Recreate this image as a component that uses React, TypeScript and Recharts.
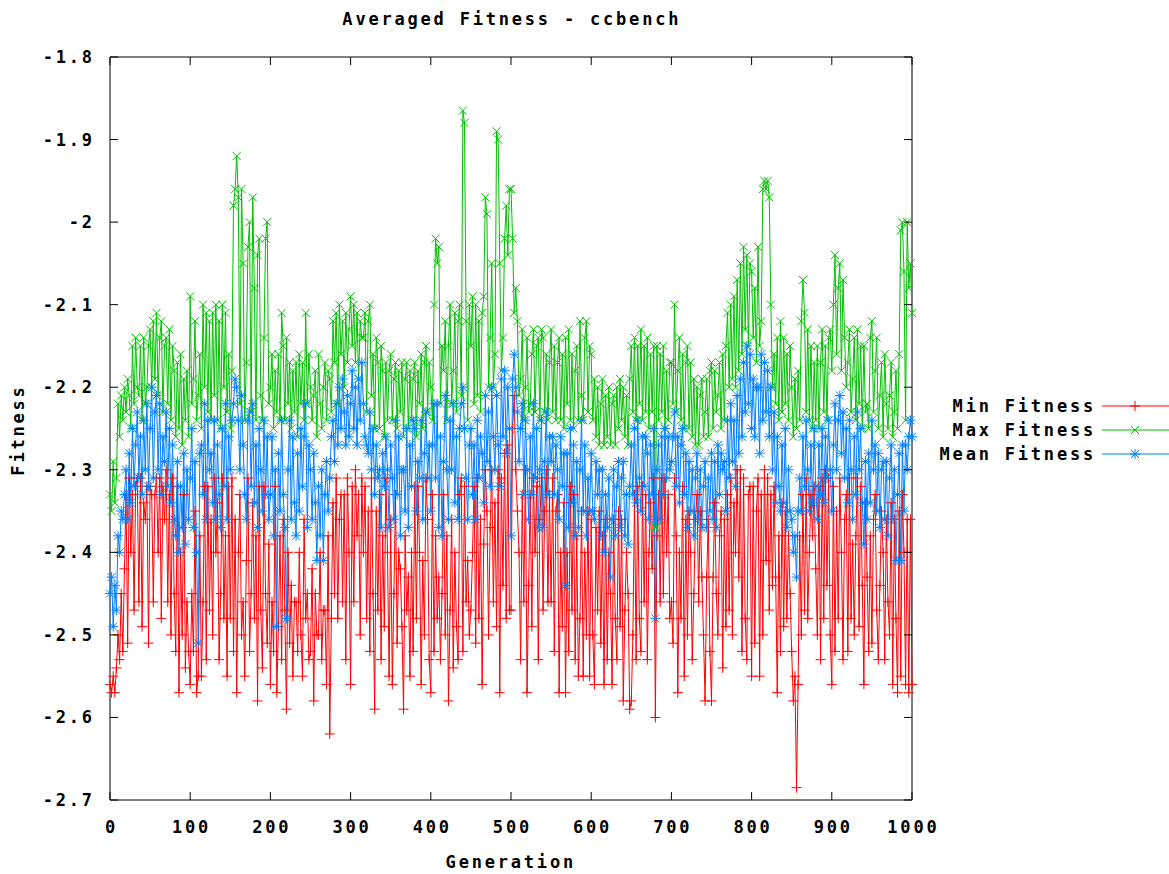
import { LineChart, Line, XAxis, YAxis, ReferenceArea } from "recharts";

// generations sampled every 2
const generations = [
  0, 2, 4, 6, 8, 10, 12, 14, 16, 18, 20, 22, 24, 26, 28, 30, 32, 34, 36, 38, 40, 42, 44, 46, 48,
  50, 52, 54, 56, 58, 60, 62, 64, 66, 68, 70, 72, 74, 76, 78, 80, 82, 84, 86, 88, 90, 92, 94, 96, 98,
  100, 102, 104, 106, 108, 110, 112, 114, 116, 118, 120, 122, 124, 126, 128, 130, 132, 134, 136, 138, 140, 142, 144, 146, 148,
  150, 152, 154, 156, 158, 160, 162, 164, 166, 168, 170, 172, 174, 176, 178, 180, 182, 184, 186, 188, 190, 192, 194, 196, 198,
  200, 202, 204, 206, 208, 210, 212, 214, 216, 218, 220, 222, 224, 226, 228, 230, 232, 234, 236, 238, 240, 242, 244, 246, 248,
  250, 252, 254, 256, 258, 260, 262, 264, 266, 268, 270, 272, 274, 276, 278, 280, 282, 284, 286, 288, 290, 292, 294, 296, 298,
  300, 302, 304, 306, 308, 310, 312, 314, 316, 318, 320, 322, 324, 326, 328, 330, 332, 334, 336, 338, 340, 342, 344, 346, 348,
  350, 352, 354, 356, 358, 360, 362, 364, 366, 368, 370, 372, 374, 376, 378, 380, 382, 384, 386, 388, 390, 392, 394, 396, 398,
  400, 402, 404, 406, 408, 410, 412, 414, 416, 418, 420, 422, 424, 426, 428, 430, 432, 434, 436, 438, 440, 442, 444, 446, 448,
  450, 452, 454, 456, 458, 460, 462, 464, 466, 468, 470, 472, 474, 476, 478, 480, 482, 484, 486, 488, 490, 492, 494, 496, 498,
  500, 502, 504, 506, 508, 510, 512, 514, 516, 518, 520, 522, 524, 526, 528, 530, 532, 534, 536, 538, 540, 542, 544, 546, 548,
  550, 552, 554, 556, 558, 560, 562, 564, 566, 568, 570, 572, 574, 576, 578, 580, 582, 584, 586, 588, 590, 592, 594, 596, 598,
  600, 602, 604, 606, 608, 610, 612, 614, 616, 618, 620, 622, 624, 626, 628, 630, 632, 634, 636, 638, 640, 642, 644, 646, 648,
  650, 652, 654, 656, 658, 660, 662, 664, 666, 668, 670, 672, 674, 676, 678, 680, 682, 684, 686, 688, 690, 692, 694, 696, 698,
  700, 702, 704, 706, 708, 710, 712, 714, 716, 718, 720, 722, 724, 726, 728, 730, 732, 734, 736, 738, 740, 742, 744, 746, 748,
  750, 752, 754, 756, 758, 760, 762, 764, 766, 768, 770, 772, 774, 776, 778, 780, 782, 784, 786, 788, 790, 792, 794, 796, 798,
  800, 802, 804, 806, 808, 810, 812, 814, 816, 818, 820, 822, 824, 826, 828, 830, 832, 834, 836, 838, 840, 842, 844, 846, 848,
  850, 852, 854, 856, 858, 860, 862, 864, 866, 868, 870, 872, 874, 876, 878, 880, 882, 884, 886, 888, 890, 892, 894, 896, 898,
  900, 902, 904, 906, 908, 910, 912, 914, 916, 918, 920, 922, 924, 926, 928, 930, 932, 934, 936, 938, 940, 942, 944, 946, 948,
  950, 952, 954, 956, 958, 960, 962, 964, 966, 968, 970, 972, 974, 976, 978, 980, 982, 984, 986, 988, 990, 992, 994, 996, 998,
  1000,
];

const minFitness = [
  -2.56, -2.57, -2.55, -2.57, -2.54, -2.5, -2.53, -2.45, -2.52, -2.42, -2.33, -2.51, -2.31, -2.4, -2.33, -2.47, -2.32, -2.31, -2.46, -2.31, -2.49, -2.34, -2.36, -2.32, -2.51,
  -2.32, -2.33, -2.46, -2.33, -2.31, -2.4, -2.31, -2.48, -2.32, -2.36, -2.3, -2.46, -2.33, -2.5, -2.31, -2.45, -2.52, -2.32, -2.57, -2.4, -2.5, -2.33, -2.54, -2.46, -2.52,
  -2.56, -2.45, -2.52, -2.35, -2.57, -2.55, -2.38, -2.55, -2.46, -2.32, -2.53, -2.32, -2.47, -2.36, -2.5, -2.31, -2.4, -2.34, -2.53, -2.45, -2.31, -2.48, -2.38, -2.55, -2.32,
  -2.48, -2.31, -2.52, -2.36, -2.57, -2.4, -2.33, -2.5, -2.46, -2.55, -2.41, -2.31, -2.52, -2.45, -2.34, -2.48, -2.38, -2.58, -2.32, -2.47, -2.54, -2.32, -2.45, -2.51, -2.39,
  -2.56, -2.46, -2.52, -2.32, -2.57, -2.49, -2.38, -2.53, -2.36, -2.47, -2.59, -2.4, -2.51, -2.44, -2.55, -2.46, -2.46, -2.52, -2.4, -2.5, -2.55, -2.36, -2.48, -2.45, -2.53,
  -2.52, -2.42, -2.58, -2.45, -2.5, -2.5, -2.4, -2.53, -2.47, -2.47, -2.56, -2.38, -2.62, -2.48, -2.34, -2.45, -2.31, -2.48, -2.36, -2.33, -2.46, -2.33, -2.53, -2.31, -2.4,
  -2.56, -2.32, -2.46, -2.3, -2.38, -2.33, -2.5, -2.31, -2.4, -2.32, -2.48, -2.35, -2.52, -2.31, -2.45, -2.59, -2.35, -2.47, -2.33, -2.53, -2.38, -2.49, -2.31, -2.4, -2.55,
  -2.36, -2.56, -2.45, -2.33, -2.51, -2.4, -2.42, -2.49, -2.59, -2.38, -2.47, -2.43, -2.55, -2.4, -2.52, -2.32, -2.48, -2.32, -2.4, -2.56, -2.41, -2.5, -2.31, -2.36, -2.53,
  -2.57, -2.33, -2.52, -2.38, -2.48, -2.43, -2.53, -2.45, -2.33, -2.5, -2.38, -2.58, -2.47, -2.36, -2.54, -2.4, -2.49, -2.53, -2.33, -2.31, -2.52, -2.32, -2.46, -2.41, -2.5,
  -2.47, -2.4, -2.32, -2.51, -2.31, -2.48, -2.36, -2.56, -2.39, -2.3, -2.35, -2.5, -2.37, -2.3, -2.46, -2.34, -2.49, -2.3, -2.57, -2.31, -2.44, -2.28, -2.48, -2.27, -2.47,
  -2.47, -2.25, -2.21, -2.3, -2.35, -2.4, -2.53, -2.33, -2.46, -2.3, -2.57, -2.44, -2.33, -2.49, -2.31, -2.4, -2.32, -2.53, -2.36, -2.31, -2.47, -2.35, -2.3, -2.46, -2.33,
  -2.46, -2.31, -2.52, -2.35, -2.33, -2.57, -2.4, -2.49, -2.34, -2.57, -2.4, -2.52, -2.32, -2.47, -2.33, -2.53, -2.38, -2.55, -2.48, -2.35, -2.55, -2.4, -2.5, -2.35, -2.55,
  -2.36, -2.5, -2.56, -2.37, -2.47, -2.35, -2.51, -2.38, -2.56, -2.36, -2.53, -2.4, -2.45, -2.56, -2.36, -2.48, -2.53, -2.35, -2.49, -2.36, -2.58, -2.47, -2.4, -2.45, -2.59,
  -2.58, -2.5, -2.33, -2.53, -2.32, -2.48, -2.52, -2.32, -2.46, -2.33, -2.53, -2.4, -2.34, -2.42, -2.31, -2.6, -2.38, -2.33, -2.46, -2.31, -2.45, -2.31, -2.4, -2.33, -2.48,
  -2.46, -2.51, -2.31, -2.38, -2.57, -2.4, -2.48, -2.32, -2.55, -2.36, -2.5, -2.35, -2.4, -2.53, -2.45, -2.36, -2.33, -2.46, -2.35, -2.43, -2.5, -2.58, -2.43, -2.36, -2.52,
  -2.58, -2.43, -2.34, -2.45, -2.5, -2.38, -2.35, -2.54, -2.36, -2.49, -2.33, -2.47, -2.31, -2.5, -2.34, -2.4, -2.3, -2.43, -2.3, -2.52, -2.31, -2.48, -2.53, -2.33, -2.32,
  -2.55, -2.32, -2.51, -2.35, -2.31, -2.55, -2.33, -2.5, -2.3, -2.41, -2.31, -2.47, -2.33, -2.44, -2.32, -2.43, -2.57, -2.38, -2.52, -2.34, -2.49, -2.35, -2.48, -2.38, -2.45,
  -2.52, -2.58, -2.55, -2.685, -2.56, -2.38, -2.5, -2.33, -2.47, -2.31, -2.48, -2.4, -2.33, -2.38, -2.32, -2.42, -2.5, -2.32, -2.53, -2.31, -2.48, -2.3, -2.44, -2.31, -2.5,
  -2.56, -2.32, -2.52, -2.35, -2.48, -2.31, -2.4, -2.53, -2.36, -2.33, -2.52, -2.31, -2.48, -2.39, -2.5, -2.38, -2.31, -2.49, -2.32, -2.44, -2.56, -2.34, -2.43, -2.52, -2.38,
  -2.51, -2.36, -2.33, -2.47, -2.53, -2.44, -2.35, -2.4, -2.53, -2.36, -2.46, -2.5, -2.34, -2.56, -2.36, -2.48, -2.57, -2.35, -2.55, -2.33, -2.4, -2.56, -2.36, -2.57, -2.36,
  -2.56,
];

const maxFitness = [
  -2.33, -2.35, -2.29, -2.34, -2.31, -2.22, -2.26, -2.21, -2.24, -2.2, -2.23, -2.19, -2.21, -2.25, -2.15, -2.22, -2.14, -2.2, -2.21, -2.15, -2.24, -2.14, -2.22, -2.2, -2.15,
  -2.13, -2.2, -2.12, -2.19, -2.11, -2.21, -2.14, -2.12, -2.23, -2.15, -2.14, -2.22, -2.13, -2.24, -2.15, -2.18, -2.26, -2.17, -2.25, -2.16, -2.27, -2.19, -2.24, -2.18, -2.26,
  -2.09, -2.22, -2.19, -2.12, -2.24, -2.21, -2.16, -2.25, -2.1, -2.2, -2.11, -2.23, -2.12, -2.24, -2.11, -2.21, -2.1, -2.24, -2.12, -2.25, -2.1, -2.2, -2.11, -2.23, -2.16,
  -2.25, -2.18, -1.98, -1.96, -1.92, -1.97, -2.22, -1.96, -2.05, -2.24, -2.17, -2.03, -2.0, -2.23, -1.97, -2.08, -2.24, -2.04, -2.02, -2.21, -2.24, -2.14, -2.02, -2.0, -2.22,
  -2.2, -2.16, -2.25, -2.18, -2.23, -2.16, -2.24, -2.11, -2.15, -2.24, -2.14, -2.22, -2.17, -2.25, -2.18, -2.23, -2.17, -2.26, -2.16, -2.22, -2.17, -2.24, -2.11, -2.22, -2.16,
  -2.2, -2.24, -2.21, -2.18, -2.26, -2.16, -2.22, -2.25, -2.2, -2.17, -2.24, -2.18, -2.19, -2.23, -2.12, -2.17, -2.11, -2.22, -2.1, -2.16, -2.12, -2.2, -2.11, -2.17, -2.13,
  -2.09, -2.15, -2.1, -2.17, -2.11, -2.19, -2.12, -2.14, -2.14, -2.11, -2.23, -2.12, -2.1, -2.21, -2.16, -2.25, -2.14, -2.17, -2.25, -2.15, -2.18, -2.26, -2.17, -2.24, -2.18,
  -2.16, -2.24, -2.19, -2.17, -2.25, -2.18, -2.23, -2.17, -2.26, -2.19, -2.17, -2.25, -2.18, -2.24, -2.19, -2.17, -2.26, -2.18, -2.22, -2.16, -2.25, -2.17, -2.15, -2.23, -2.17,
  -2.2, -2.24, -2.1, -2.02, -2.05, -2.03, -2.22, -2.15, -2.18, -2.12, -2.24, -2.15, -2.1, -2.22, -2.18, -2.11, -2.23, -2.12, -2.1, -2.21, -1.865, -1.88, -2.12, -2.24, -2.1,
  -2.15, -2.09, -2.22, -2.1, -2.21, -2.12, -2.23, -2.11, -2.09, -1.97, -1.99, -2.2, -2.14, -2.05, -2.2, -2.16, -1.89, -1.9, -2.05, -2.18, -2.14, -2.02, -1.98, -2.04, -1.96,
  -1.96, -2.02, -2.11, -2.08, -2.12, -2.21, -2.19, -2.13, -2.24, -2.2, -2.14, -2.23, -2.22, -2.16, -2.13, -2.23, -2.15, -2.14, -2.24, -2.13, -2.14, -2.23, -2.16, -2.24, -2.17,
  -2.13, -2.23, -2.15, -2.24, -2.17, -2.14, -2.24, -2.16, -2.25, -2.14, -2.22, -2.13, -2.24, -2.16, -2.25, -2.18, -2.15, -2.24, -2.12, -2.21, -2.24, -2.14, -2.12, -2.23, -2.15,
  -2.16, -2.24, -2.19, -2.26, -2.2, -2.27, -2.22, -2.19, -2.27, -2.21, -2.26, -2.2, -2.27, -2.22, -2.21, -2.27, -2.2, -2.25, -2.19, -2.24, -2.2, -2.26, -2.21, -2.27, -2.19,
  -2.15, -2.23, -2.14, -2.24, -2.15, -2.22, -2.13, -2.24, -2.15, -2.23, -2.14, -2.25, -2.16, -2.23, -2.15, -2.37, -2.15, -2.24, -2.16, -2.23, -2.15, -2.25, -2.18, -2.24, -2.17,
  -2.17, -2.22, -2.1, -2.23, -2.18, -2.14, -2.24, -2.16, -2.25, -2.17, -2.15, -2.25, -2.17, -2.26, -2.19, -2.27, -2.2, -2.27, -2.21, -2.19, -2.26, -2.23, -2.19, -2.26, -2.18,
  -2.17, -2.25, -2.18, -2.23, -2.21, -2.17, -2.25, -2.16, -2.24, -2.15, -2.11, -2.2, -2.1, -2.19, -2.09, -2.2, -2.07, -2.18, -2.05, -2.16, -2.03, -2.13, -2.04, -2.15, -2.05,
  -2.06, -2.14, -2.08, -2.17, -2.03, -2.15, -2.12, -1.96, -1.95, -1.96, -1.95, -1.97, -2.1, -2.2, -2.16, -2.22, -2.14, -2.24, -2.12, -2.23, -2.14, -2.22, -2.16, -2.24, -2.15,
  -2.2, -2.26, -2.19, -2.25, -2.18, -2.24, -2.12, -2.07, -2.11, -2.23, -2.13, -2.24, -2.15, -2.25, -2.17, -2.24, -2.15, -2.25, -2.17, -2.13, -2.23, -2.15, -2.24, -2.14, -2.13,
  -2.18, -2.1, -2.04, -2.16, -2.08, -2.05, -2.18, -2.07, -2.14, -2.2, -2.17, -2.13, -2.23, -2.19, -2.14, -2.24, -2.13, -2.22, -2.15, -2.25, -2.15, -2.23, -2.22, -2.25, -2.14,
  -2.12, -2.23, -2.18, -2.14, -2.25, -2.21, -2.17, -2.26, -2.16, -2.22, -2.25, -2.21, -2.17, -2.26, -2.23, -2.18, -2.25, -2.16, -2.01, -2.0, -2.06, -2.24, -2.0, -2.08, -2.05,
  -2.11,
];

const meanFitness = [
  -2.45, -2.43, -2.49, -2.44, -2.47, -2.38, -2.4, -2.35, -2.36, -2.33, -2.3, -2.36, -2.28, -2.34, -2.25, -2.32, -2.27, -2.23, -2.31, -2.26, -2.33, -2.24, -2.3, -2.22, -2.32,
  -2.25, -2.2, -2.31, -2.23, -2.21, -2.3, -2.22, -2.33, -2.26, -2.29, -2.23, -2.32, -2.25, -2.34, -2.27, -2.36, -2.38, -2.29, -2.4, -2.32, -2.37, -2.28, -2.39, -2.3, -2.36,
  -2.31, -2.25, -2.37, -2.29, -2.4, -2.51, -2.28, -2.27, -2.33, -2.22, -2.36, -2.24, -2.3, -2.28, -2.34, -2.24, -2.36, -2.27, -2.33, -2.37, -2.25, -2.32, -2.22, -2.36, -2.26,
  -2.3, -2.24, -2.22, -2.19, -2.2, -2.24, -2.3, -2.21, -2.27, -2.33, -2.36, -2.24, -2.23, -2.32, -2.22, -2.34, -2.27, -2.37, -2.25, -2.3, -2.35, -2.24, -2.33, -2.26, -2.36,
  -2.33, -2.26, -2.38, -2.3, -2.49, -2.28, -2.35, -2.24, -2.33, -2.37, -2.48, -2.3, -2.24, -2.36, -2.26, -2.34, -2.38, -2.28, -2.35, -2.25, -2.32, -2.26, -2.22, -2.37, -2.27,
  -2.3, -2.36, -2.28, -2.34, -2.41, -2.32, -2.38, -2.3, -2.41, -2.33, -2.29, -2.35, -2.31, -2.26, -2.24, -2.29, -2.22, -2.27, -2.2, -2.25, -2.19, -2.23, -2.27, -2.21, -2.26,
  -2.22, -2.18, -2.25, -2.2, -2.27, -2.19, -2.24, -2.17, -2.22, -2.26, -2.27, -2.28, -2.23, -2.3, -2.25, -2.33, -2.27, -2.31, -2.3, -2.37, -2.28, -2.32, -2.26, -2.3, -2.37,
  -2.27, -2.31, -2.36, -2.24, -2.33, -2.26, -2.38, -2.3, -2.3, -2.35, -2.25, -2.37, -2.27, -2.32, -2.24, -2.25, -2.35, -2.29, -2.31, -2.24, -2.36, -2.28, -2.23, -2.31, -2.27,
  -2.35, -2.27, -2.22, -2.31, -2.22, -2.37, -2.26, -2.38, -2.29, -2.21, -2.3, -2.36, -2.24, -2.3, -2.22, -2.34, -2.26, -2.36, -2.25, -2.22, -2.2, -2.25, -2.31, -2.36, -2.27,
  -2.25, -2.33, -2.27, -2.36, -2.24, -2.31, -2.26, -2.28, -2.34, -2.21, -2.29, -2.23, -2.32, -2.2, -2.26, -2.3, -2.21, -2.27, -2.32, -2.19, -2.26, -2.18, -2.28, -2.2, -2.25,
  -2.38, -2.19, -2.16, -2.2, -2.23, -2.29, -2.25, -2.22, -2.33, -2.24, -2.3, -2.36, -2.26, -2.33, -2.22, -2.31, -2.25, -2.37, -2.3, -2.24, -2.37, -2.29, -2.23, -2.33, -2.26,
  -2.29, -2.26, -2.33, -2.27, -2.3, -2.36, -2.26, -2.32, -2.28, -2.44, -2.28, -2.37, -2.25, -2.34, -2.27, -2.38, -2.29, -2.37, -2.3, -2.24, -2.35, -2.27, -2.38, -2.31, -2.35,
  -2.28, -2.35, -2.36, -2.29, -2.33, -2.3, -2.38, -2.3, -2.4, -2.33, -2.37, -2.31, -2.43, -2.36, -2.3, -2.38, -2.32, -2.29, -2.37, -2.31, -2.29, -2.38, -2.33, -2.39, -2.32,
  -2.27, -2.33, -2.25, -2.34, -2.24, -2.31, -2.35, -2.26, -2.32, -2.26, -2.28, -2.36, -2.27, -2.33, -2.25, -2.48, -2.3, -2.27, -2.36, -2.26, -2.33, -2.25, -2.31, -2.26, -2.3,
  -2.29, -2.26, -2.23, -2.32, -2.26, -2.34, -2.27, -2.25, -2.33, -2.28, -2.37, -2.29, -2.35, -2.3, -2.38, -2.31, -2.28, -2.36, -2.3, -2.37, -2.32, -2.29, -2.37, -2.31, -2.35,
  -2.28, -2.36, -2.29, -2.37, -2.27, -2.33, -2.28, -2.3, -2.29, -2.35, -2.24, -2.31, -2.22, -2.29, -2.24, -2.32, -2.21, -2.28, -2.19, -2.26, -2.17, -2.23, -2.15, -2.22, -2.16,
  -2.25, -2.19, -2.26, -2.2, -2.2, -2.28, -2.16, -2.24, -2.17, -2.23, -2.18, -2.26, -2.2, -2.3, -2.23, -2.34, -2.26, -2.32, -2.35, -2.27, -2.34, -2.25, -2.37, -2.3, -2.35,
  -2.36, -2.4, -2.38, -2.43, -2.35, -2.31, -2.35, -2.26, -2.32, -2.24, -2.3, -2.35, -2.27, -2.34, -2.25, -2.32, -2.36, -2.27, -2.33, -2.25, -2.34, -2.26, -2.31, -2.24, -2.3,
  -2.35, -2.27, -2.22, -2.3, -2.24, -2.21, -2.28, -2.23, -2.31, -2.25, -2.34, -2.24, -2.3, -2.36, -2.26, -2.33, -2.23, -2.3, -2.25, -2.34, -2.39, -2.29, -2.36, -2.28, -2.34,
  -2.24, -2.3, -2.27, -2.35, -2.28, -2.37, -2.3, -2.29, -2.36, -2.29, -2.38, -2.31, -2.27, -2.36, -2.3, -2.41, -2.33, -2.28, -2.41, -2.27, -2.35, -2.27, -2.3, -2.26, -2.24,
  -2.26,
];

const xTicks = [0, 100, 200, 300, 400, 500, 600, 700, 800, 900, 1000];
const yTicks = [-2.7, -2.6, -2.5, -2.4, -2.3, -2.2, -2.1, -2, -1.9, -1.8];
const yTickLabels = ["-2.7", "-2.6", "-2.5", "-2.4", "-2.3", "-2.2", "-2.1", "-2", "-1.9", "-1.8"];

const seriesNames = ["Min Fitness", "Max Fitness", "Mean Fitness"];

const RED = "#ff0000";
const GREEN = "#00c000";
const BLUE = "#0080ff";

const FONT = "'DejaVu Sans Mono', monospace";
const FONT_SIZE = 17;
const LS = 2.8;

const W = 1169;
const H = 874;
const PLOT_W = 802;
const PLOT_H = 743;

const data = generations.map((g, i) => ({
  gen: g,
  min: minFitness[i],
  max: maxFitness[i],
  mean: meanFitness[i],
}));

function markerPath(kind: string, cx: number, cy: number) {
  const plus = `M${cx - 5},${cy}h10M${cx},${cy - 5}v10`;
  const cross = `M${cx - 4},${cy - 4}l8,8M${cx - 4},${cy + 4}l8,-8`;
  if (kind === "plus") return plus;
  if (kind === "cross") return cross;
  return plus + cross;
}

function markerDot(kind: string, color: string) {
  return (props: any) => {
    const { cx, cy, index } = props;
    if (cx == null || cy == null) return <g key={index} />;
    return (
      <path
        key={index}
        d={markerPath(kind, cx, cy)}
        stroke={color}
        strokeWidth={1}
        fill="none"
      />
    );
  };
}

const textStyle = {
  fontFamily: FONT,
  fontSize: FONT_SIZE,
  fontWeight: "bold" as const,
  letterSpacing: LS,
  fill: "#000",
};

function XTick(props: any) {
  const { x, y, payload } = props;
  return (
    <g>
      <line x1={x} y1={y} x2={x} y2={y - 8} stroke="#000" />
      <line x1={x} y1={y - PLOT_H} x2={x} y2={y - PLOT_H + 8} stroke="#000" />
      <text x={x + LS / 2} y={y + 27} textAnchor="middle" dominantBaseline="central" style={textStyle}>
        {payload.value}
      </text>
    </g>
  );
}

function YTick(props: any) {
  const { x, y, payload, index } = props;
  return (
    <g>
      <line x1={x} y1={y} x2={x + 8} y2={y} stroke="#000" />
      <line x1={x + PLOT_W} y1={y} x2={x + PLOT_W - 8} y2={y} stroke="#000" />
      <text x={x - 18 + LS} y={y} textAnchor="end" dominantBaseline="central" style={textStyle}>
        {yTickLabels[index] ?? payload.value}
      </text>
    </g>
  );
}

function FitnessLegend() {
  const colors = [RED, GREEN, BLUE];
  const kinds = ["plus", "cross", "star"];
  return (
    <svg width={239} height={72} style={{ position: "absolute", left: 930, top: 394 }}>
      {seriesNames.map((name, i) => {
        const cy = 12 + i * 24;
        return (
          <g key={name}>
            <text x={166} y={cy} textAnchor="end" dominantBaseline="central" style={textStyle}>
              {name}
            </text>
            <line x1={172} y1={cy} x2={239} y2={cy} stroke={colors[i]} />
            <path d={markerPath(kinds[i], 205, cy)} stroke={colors[i]} fill="none" />
          </g>
        );
      })}
    </svg>
  );
}

const htmlText = {
  position: "absolute" as const,
  fontFamily: FONT,
  fontSize: FONT_SIZE,
  fontWeight: "bold" as const,
  letterSpacing: LS,
  lineHeight: "22px",
  color: "#000",
  whiteSpace: "nowrap" as const,
};

export default function App() {
  return (
    <div style={{ position: "absolute", left: 0, top: 0, width: W, height: H, background: "#fff" }}>
      <LineChart
        width={W}
        height={H}
        data={data}
        margin={{ top: 57, right: 257, left: 50, bottom: 44 }}
      >
        <XAxis
          dataKey="gen"
          type="number"
          domain={[0, 1000]}
          ticks={xTicks}
          height={30}
          tickSize={0}
          tickMargin={0}
          tickLine={false}
          axisLine={false}
          tick={<XTick />}
          interval={0}
        />
        <YAxis
          type="number"
          domain={[-2.7, -1.8]}
          ticks={yTicks}
          width={60}
          tickSize={0}
          tickMargin={0}
          tickLine={false}
          axisLine={false}
          tick={<YTick />}
          interval={0}
          allowDataOverflow
        />
        <ReferenceArea
          x1={0}
          x2={1000}
          y1={-2.7}
          y2={-1.8}
          fill="none"
          stroke="#000"
          strokeWidth={1}
          fillOpacity={0}
        />
        <Line
          type="linear"
          dataKey="min"
          name={seriesNames[0]}
          stroke={RED}
          strokeWidth={1}
          dot={markerDot("plus", RED)}
          activeDot={false}
          isAnimationActive={false}
        />
        <Line
          type="linear"
          dataKey="max"
          name={seriesNames[1]}
          stroke={GREEN}
          strokeWidth={1}
          dot={markerDot("cross", GREEN)}
          activeDot={false}
          isAnimationActive={false}
        />
        <Line
          type="linear"
          dataKey="mean"
          name={seriesNames[2]}
          stroke={BLUE}
          strokeWidth={1}
          dot={markerDot("star", BLUE)}
          activeDot={false}
          isAnimationActive={false}
        />
      </LineChart>
      <FitnessLegend />
      <div style={{ ...htmlText, left: 0, top: 8, width: 1018, textAlign: "center", paddingLeft: LS }}>
        Averaged Fitness - ccbench
      </div>
      <div style={{ ...htmlText, left: 0, top: 851, width: 1016, textAlign: "center", paddingLeft: LS }}>
        Generation
      </div>
      <div
        style={{
          ...htmlText,
          left: 18,
          top: 430,
          transform: "translate(-50%, -50%) rotate(-90deg)",
        }}
      >
        Fitness
      </div>
    </div>
  );
}
